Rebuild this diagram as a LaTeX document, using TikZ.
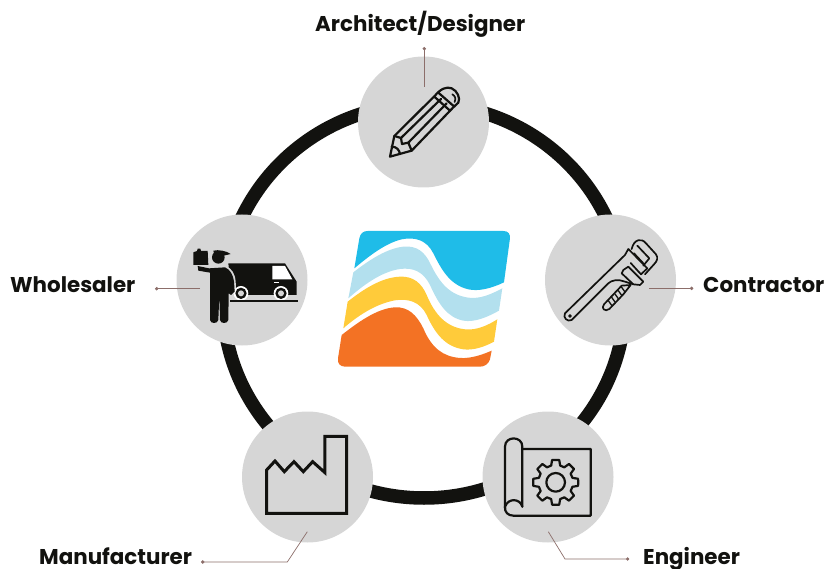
\documentclass[tikz,border=0pt]{standalone}
\usepackage{fontspec}
\setmainfont{Poppins}
\usetikzlibrary{arrows.meta}
\definecolor{ringblack}{HTML}{12120F}
\definecolor{discgray}{HTML}{D6D6D6}
\definecolor{leaderbrown}{HTML}{8C6E6A}
\definecolor{logoblue}{HTML}{1FBCE8}
\definecolor{logolight}{HTML}{B3E0EE}
\definecolor{logoyellow}{HTML}{FFCB3A}
\definecolor{logoorange}{HTML}{F37224}
\tikzset{
  disc/.style={circle,fill=discgray,minimum size=131pt,inner sep=0pt},
  rolelabel/.style={anchor=base west,inner sep=0pt,font=\bfseries\fontsize{21.4}{25}\selectfont,text=ringblack},
  leader/.style={color=leaderbrown,line width=0.7pt,-{Circle[length=3.4pt]}},
  icon/.style={shift={#1},x=0.3333pt,y=-0.3333pt},
  iconline/.style={draw=ringblack,line width=2.2pt,line join=round,line cap=round},
  iconthin/.style={draw=ringblack,line width=1.7pt,line join=round,line cap=round}
}
\begin{document}
\begin{tikzpicture}[x=1pt,y=-1pt]
\useasboundingbox (0,0) rectangle (827,569);
% ring and discs
\draw[color=ringblack,line width=13.5pt] (424,301) ellipse (201 and 197);
\node[disc] (architect) at (423.5,122) {};
\node[disc] (contractor) at (610.5,280) {};
\node[disc] (wholesaler) at (242,280) {};
\node[disc] (manufacturer) at (307.5,477) {};
\node[disc] (engineer) at (548,477) {};
% logo
\begin{scope}[icon={(325,220)}]
\fill[logoblue] (88,145) -- (103,55) .. controls (106,40) and (115,33) .. (128,33) -- (535,33) .. controls (550,33) and (556,42) .. (555,55) -- (537,187) .. controls (500,205) and (460,215) .. (430,208) .. controls (375,195) and (350,150) .. (325,100) .. controls (305,60) and (270,50) .. (230,58) .. controls (180,70) and (130,110) .. (88,145) -- cycle;
\fill[logolight] (85,157) .. controls (130,122) and (185,85) .. (235,80) .. controls (275,76) and (300,95) .. (318,135) .. controls (345,190) and (375,225) .. (430,233) .. controls (465,238) and (500,222) .. (532,205) -- (522,272) .. controls (490,290) and (450,308) .. (415,302) .. controls (365,292) and (340,250) .. (315,195) .. controls (295,155) and (265,142) .. (225,147) .. controls (170,155) and (115,195) .. (70,235) -- cycle;
\fill[logoyellow] (68,245) .. controls (115,208) and (170,172) .. (225,170) .. controls (265,168) and (290,190) .. (305,225) .. controls (330,285) and (365,322) .. (420,328) .. controls (455,332) and (490,315) .. (517,298) -- (507,365) .. controls (480,380) and (445,392) .. (415,388) .. controls (360,380) and (330,340) .. (305,285) .. controls (285,245) and (250,235) .. (210,241) .. controls (150,252) and (95,290) .. (55,325) -- cycle;
\fill[logoorange] (50,345) .. controls (95,310) and (155,265) .. (210,262) .. controls (250,260) and (275,285) .. (295,325) .. controls (320,385) and (355,410) .. (405,414) .. controls (440,416) and (475,403) .. (500,392) -- (495,418) .. controls (490,432) and (480,440) .. (465,440) -- (60,440) .. controls (45,440) and (37,430) .. (39,415) -- cycle;
\end{scope}
% pencil
\begin{scope}[icon={(340,0)}]
\draw[iconline] (150,470) -- (163,408) -- (285,287) .. controls (300,268) and (320,258) .. (335,265) .. controls (352,272) and (362,295) .. (355,308) -- (340,322) -- (215,452) -- cycle;
\draw[iconline] (283,290) -- (330,332) (295,278) -- (343,320);
\draw[iconline] (183,414) -- (303,297) (205,428) -- (320,310);
\draw[iconline] (163,408) -- (183,414) -- (186,432) -- (205,428) -- (215,452);
\draw[iconline] (155,440) .. controls (170,440) and (178,450) .. (180,462);
\draw[iconthin] (337,283) .. controls (346,288) and (348,296) .. (344,306);
\end{scope}
% wrench
\begin{scope}[icon={(560,235)}]
\draw[iconthin] (15,235) -- (195,60) -- (205,42) -- (262,100) -- (243,118) -- (212,84);
\draw[iconthin] (222,55) -- (250,85);
\draw[iconthin] (215,42) .. controls (222,12) and (245,8) .. (258,25) -- (288,58) .. controls (295,68) and (292,78) .. (282,88) -- (255,118);
\draw[iconthin] (232,32) -- (268,70) -- (250,92);
\draw[iconthin] (190,105) -- (205,95) -- (250,140) -- (240,150) -- (220,148) -- (185,115) -- cycle;
\draw[iconthin] (15,235) .. controls (8,248) and (22,262) .. (35,255) -- (145,145) .. controls (155,135) and (175,132) .. (195,140) -- (220,148);
\draw[iconthin] (30,243) circle (3);
\draw[iconthin] (132,208) -- (185,152) -- (212,150) -- (190,178) -- (148,222) .. controls (135,232) and (122,220) .. (132,208);
\foreach \i in {0,1,2,3,4} {
  \draw[iconthin,line width=1.3pt] (145+\i*10,197-\i*10) -- (155+\i*10,211-\i*10);
}
\end{scope}
% wholesaler
\begin{scope}[icon={(185,240)}]
\fill[ringblack] (130,70) -- (300,70) -- (335,125) -- (335,165) -- (140,165) -- cycle;
\fill[discgray] (122,78) .. controls (140,85) and (150,100) .. (152,125) -- (155,175) -- (125,175) -- cycle;
\fill[white] (262,78) -- (300,78) -- (322,118) -- (262,118) -- cycle;
\draw[white,line width=0.8pt] (268,127) -- (282,127);
\foreach \cx in {168,288} {
  \fill[white] (\cx,160) circle (22);
  \fill[ringblack] (\cx,160) circle (17);
  \fill[discgray] (\cx,160) circle (9);
}
\draw[ringblack,line width=1.6pt] (135,183) -- (340,183);
\fill[ringblack] (25,37) -- (36,33) -- (38,26) -- (46,26) -- (48,33) -- (68,33) -- (70,75) -- (25,75) -- cycle;
\fill[ringblack] (38,78) -- (72,85) -- (120,82) .. controls (135,88) and (145,105) .. (147,125) -- (149,155) -- (138,165) -- (131,160) -- (130,240) .. controls (128,252) and (106,252) .. (105,240) -- (103,165) -- (100,240) .. controls (98,252) and (76,252) .. (75,240) -- (75,98) -- (40,92) -- cycle;
\fill[ringblack] (100,52) circle (19);
\fill[ringblack] (85,32) .. controls (100,28) and (125,33) .. (137,42) -- (112,48) -- (88,45) -- cycle;
\end{scope}
% factory
\begin{scope}[icon={(0,405)}]
\draw[iconline,line width=3pt,line cap=butt,line join=miter] (800,325) -- (800,195) -- (825,168) -- (853,200) -- (882,170) -- (910,200) -- (938,170) -- (975,203) -- (975,94) -- (1040,94) -- (1040,325) -- cycle;
\end{scope}
% blueprint
\begin{scope}[icon={(470,405)}]
\draw[iconline] (105,310) -- (105,125) .. controls (105,92) and (157,92) .. (157,125) -- (157,305);
\draw[iconline] (157,305) .. controls (150,280) and (115,278) .. (105,305) .. controls (103,322) and (115,332) .. (130,332) -- (362,332) -- (362,132) -- (157,132);
\begin{scope}[shift={(257,232)}]
\draw[iconline] (0:68)
  \foreach \a in {0,45,...,315} { -- (\a+9:68) -- (\a+15:52) -- (\a+30:52) -- (\a+36:68) } -- cycle;
\draw[iconline] (0,0) circle (28);
\end{scope}
\end{scope}
% labels and leaders
\node[rolelabel] (architectlabel) at (315,32) {Architect/Designer};
\node[rolelabel] (contractorlabel) at (703,293) {Contractor};
\node[rolelabel] (wholesalerlabel) at (10,293) {Wholesaler};
\node[rolelabel] (manufacturerlabel) at (39,564) {Manufacturer};
\node[rolelabel] (engineerlabel) at (643,564) {Engineer};
\coordinate (architectdot) at (424.3,47);
\coordinate (architectend) at (424.3,86.7);
\coordinate (contractordot) at (693.3,288.3);
\coordinate (contractorend) at (649,288.3);
\coordinate (wholesalerdot) at (155,288.7);
\coordinate (wholesalerend) at (200,288.7);
\coordinate (manufacturerdot) at (201,562);
\coordinate (manufacturerknee) at (287.3,562);
\coordinate (manufacturerend) at (307.3,531.7);
\coordinate (engineerdot) at (629.3,559);
\coordinate (engineerknee) at (565,559);
\coordinate (engineerend) at (548.3,531.7);
\draw[leader] (architectend) -- (architectdot);
\draw[leader] (contractorend) -- (contractordot);
\draw[leader] (wholesalerend) -- (wholesalerdot);
\draw[leader] (manufacturerend) -- (manufacturerknee) -- (manufacturerdot);
\draw[leader] (engineerend) -- (engineerknee) -- (engineerdot);
\end{tikzpicture}
\end{document}
